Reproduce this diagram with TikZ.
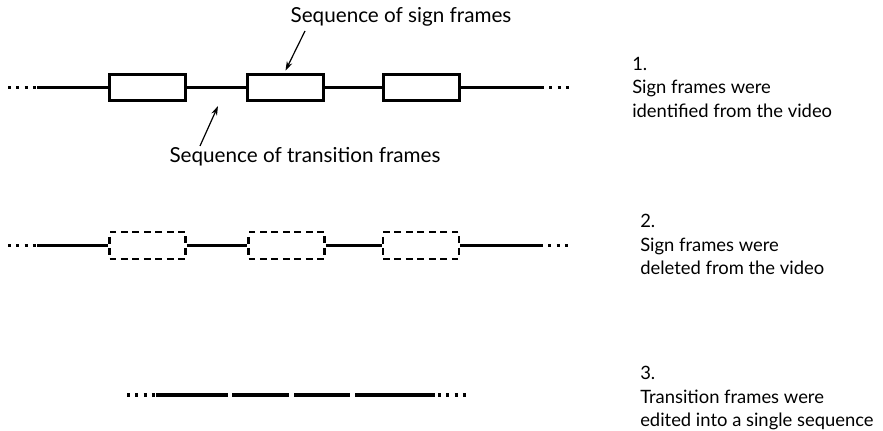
\documentclass[tikz,border=0pt]{standalone}
\usepackage{fontspec}
\setmainfont{Lato}
\usetikzlibrary{arrows.meta}

\tikzset{
    frame/.style={rectangle, draw, line width=2.3pt, minimum width=57pt, minimum height=20pt, inner sep=0pt},
    gone/.style={rectangle, draw, line width=1.6pt, dash pattern=on 5pt off 3.6pt, minimum width=57pt, minimum height=20pt, inner sep=0pt},
    seq/.style={line width=2.8pt},
    dots/.style={line width=2.8pt, dash pattern=on 2.4pt off 3.8pt},
    arr/.style={-{Stealth[length=7pt, width=4.5pt]}, line width=0.9pt},
    lbl/.style={font=\fontsize{15.5}{18}\selectfont, inner sep=0pt},
    note/.style={font=\fontsize{13.8}{17.6}\selectfont, inner sep=0pt, align=left, anchor=north west}
}

\begin{document}
\begin{tikzpicture}[x=0.75pt, y=-0.75pt]
    \useasboundingbox (0,0) rectangle (883,431);

    % 1. sign frames in the video
    \node[frame] (f1) at (147.5,87.5) {};
    \node[frame] (f2) at (285.5,87.5) {};
    \node[frame] (f3) at (421.5,87.5) {};
    \coordinate (s1) at (37,87.5);
    \coordinate (e1) at (541,87.5);
    \draw[dots] (8,87.5) -- (s1);
    \draw[dots] (e1) -- (570,87.5);
    \draw[seq] (s1) -- (f1.west);
    \draw[seq] (f1.east) -- (f2.west);
    \draw[seq] (f2.east) -- (f3.west);
    \draw[seq] (f3.east) -- (e1);

    \node[lbl] (signlbl) at (401,17) {Sequence of sign frames};
    \node[lbl] (translbl) at (305,157) {Sequence of transition frames};
    \coordinate (a1) at (305,31);
    \coordinate (a2) at (200,146);
    \coordinate (a2t) at (218,106);
    \draw[arr] (a1) -- ([yshift=1.5pt]f2.north);
    \draw[arr] (a2) -- (a2t);

    \node[note] (n1) at (632,57) {1.\\Sign frames were\\identified from the video};

    % 2. sign frames deleted
    \node[gone] (g1) at (147.5,245.5) {};
    \node[gone] (g2) at (286.5,245.5) {};
    \node[gone] (g3) at (421,245.5) {};
    \coordinate (s2) at (37,245.5);
    \coordinate (e2) at (540,245.5);
    \draw[dots] (8,245.5) -- (s2);
    \draw[dots] (e2) -- (570,245.5);
    \draw[seq] (s2) -- (g1.west);
    \draw[seq] (g1.east) -- (g2.west);
    \draw[seq] (g2.east) -- (g3.west);
    \draw[seq] (g3.east) -- (e2);

    \node[note] (n2) at (640,214) {2.\\Sign frames were\\deleted from the video};

    % 3. transitions joined
    \draw[dots] (127,395) -- (155,395);
    \draw[seq] (156,395) -- (228,395);
    \draw[seq] (232,395) -- (289,395);
    \draw[seq] (294,395) -- (350,395);
    \draw[seq] (355,395) -- (435,395);
    \draw[dots] (438,395) -- (466,395);

    \node[note] (n3) at (640,366) {3.\\Transition frames were\\edited into a single sequence};
\end{tikzpicture}
\end{document}
